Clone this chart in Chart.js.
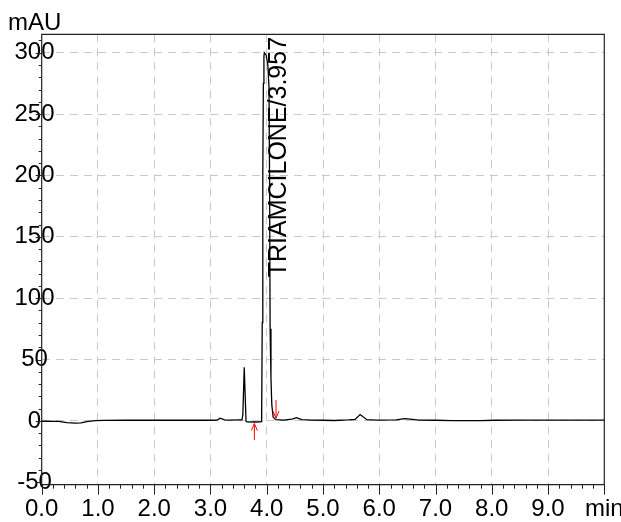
<!DOCTYPE html>
<html><head><meta charset="utf-8">
<script src="https://cdn.jsdelivr.net/npm/chart.js@4.4.0/dist/chart.umd.min.js"></script>
<style>html,body{margin:0;padding:0;background:#fff;overflow:hidden}#wrap{width:621px;height:522px;position:relative}</style>
</head><body><div id="wrap"><canvas id="c" width="621" height="522"></canvas></div>
<script>
// ---- data ----
const timeMin = [0.00,0.30,0.45,0.60,0.70,0.80,0.95,1.10,1.50,2.00,2.50,3.00,3.12,3.17,3.25,3.35,3.50,3.56,3.575,3.60,3.632,3.65,3.80,3.88,3.90,3.91,3.92,3.93,3.94,3.95,3.957,3.99,4.02,4.04,4.05,4.06,4.075,4.09,4.115,4.16,4.30,4.45,4.53,4.62,4.80,5.00,5.20,5.45,5.57,5.66,5.78,5.95,6.30,6.45,6.55,6.70,7.00,7.30,7.80,8.05,8.50,9.00,10.00];
const signalMAU = [-0.3,-0.4,-1.5,-1.9,-1.7,-0.6,0.2,0.4,0.5,0.5,0.5,0.5,0.6,2.2,0.8,0.6,0.8,0.8,5,43.6,-0.3,-0.8,-0.9,-0.8,-0.5,8,80,200,275,297,300,298,290,272,200,75,35,13,3,1.0,0.6,1.4,2.6,1.0,0.6,0.5,0.3,0.8,1.2,5.2,1.0,0.6,0.8,1.8,1.5,0.6,0.5,0.2,0.2,0.5,0.6,0.6,0.6];
const xTickValues = [0,1,2,3,4,5,6,7,8,9,10];
const xTickLabels = ['0.0','1.0','2.0','3.0','4.0','5.0','6.0','7.0','8.0','9.0','min'];
const yTickValues = [-50,0,50,100,150,200,250,300];
const yUnitLabel = 'mAU';
const peakLabel = 'TRIAMCILONE/3.957';
const peakLabelTime = [4.227];
const peakLabelMAU = [117];
const arrowTimes = [3.78, 4.165];
const arrowFromMAU = [-15.5, 17];
const arrowToMAU = [-2.2, 2.2];

const FONT = 'Liberation Sans, Arial, Helvetica, sans-serif';
Chart.defaults.font.family = FONT;
Chart.defaults.font.size = 24;
Chart.defaults.color = '#000';

const points = timeMin.map((t,i)=>({x:t,y:signalMAU[i]}));

const decor = {
  id:'decor',
  afterDraw(chart){
    const {ctx, chartArea:a, scales:{x,y}} = chart;
    ctx.save();
    // red baseline arrows
    ctx.strokeStyle = '#ff0000'; ctx.lineWidth = 1;
    arrowTimes.forEach((t,i)=>{
      const px = x.getPixelForValue(t);
      const y0 = y.getPixelForValue(arrowFromMAU[i]);
      const y1 = y.getPixelForValue(arrowToMAU[i]);
      const dir = y1 > y0 ? -1 : 1;
      ctx.beginPath();
      ctx.moveTo(px,y0); ctx.lineTo(px,y1);
      ctx.moveTo(px-3,y1+dir*7); ctx.lineTo(px,y1); ctx.lineTo(px+3,y1+dir*7);
      ctx.stroke();
    });
    // frame
    ctx.strokeStyle = '#222'; ctx.lineWidth = 1.2;
    ctx.beginPath();
    ctx.rect(a.left, a.top, a.right-a.left, a.bottom-a.top);
    ctx.stroke();
    // x ticks
    ctx.lineWidth = 1;
    ctx.beginPath();
    for(let k=0;k<=50;k++){
      const v = k*0.2;
      const px = Math.round(x.getPixelForValue(v))+0.5;
      const len = (k%5===0)?10:4;
      ctx.moveTo(px,a.bottom); ctx.lineTo(px,a.bottom+len);
    }
    // y ticks
    for(let v=-50; v<=310; v+=10){
      const py = Math.round(y.getPixelForValue(v))+0.5;
      const len = (v%50===0)?6:3;
      ctx.moveTo(a.left,py); ctx.lineTo(a.left-len,py);
    }
    ctx.stroke();
    // unit label
    ctx.fillStyle = '#000';
    ctx.font = '24px ' + FONT;
    ctx.textAlign = 'center'; ctx.textBaseline = 'middle';
    ctx.fillText(yUnitLabel, a.left-7, a.top-11);
    // peak label
    ctx.save();
    ctx.font = '25px ' + FONT;
    ctx.translate(x.getPixelForValue(peakLabelTime[0]), y.getPixelForValue(peakLabelMAU[0]));
    ctx.rotate(-Math.PI/2);
    ctx.textAlign = 'left'; ctx.textBaseline = 'middle';
    ctx.fillText(peakLabel, 0, 0);
    ctx.restore();
    ctx.restore();
  }
};

new Chart(document.getElementById('c'), {
  type:'scatter',
  data:{datasets:[{data:points, showLine:true, borderColor:'#000', borderWidth:1.3, pointRadius:0, tension:0}]},
  options:{
    responsive:false, animation:false, devicePixelRatio:1,
    layout:{padding:{left:0, top:34.3, right:16.7, bottom:0}},
    plugins:{legend:{display:false}, tooltip:{enabled:false}},
    scales:{
      x:{type:'linear', min:0, max:10,
        afterBuildTicks(s){ s.ticks = xTickValues.map(v=>({value:v})); },
        afterFit(s){ s.height = 37.3; s.paddingLeft=0; s.paddingRight=0; s.paddingTop=0; s.paddingBottom=0; },
        ticks:{autoSkip:false, maxRotation:0, padding:10, font:{size:24},
          callback:(v)=>xTickLabels[xTickValues.indexOf(v)]},
        grid:{drawTicks:false, lineWidth:1, color:(c)=> (c.tick && c.tick.value>0 && c.tick.value<10) ? '#c8c8c8' : 'rgba(0,0,0,0)'},
        border:{display:false, dash:[8,6]}
      },
      y:{type:'linear', min:-52, max:315,
        afterBuildTicks(s){ s.ticks = yTickValues.map(v=>({value:v})); },
        afterFit(s){ s.width = 41.7; s.paddingLeft=0; s.paddingRight=0; s.paddingTop=0; s.paddingBottom=0; },
        ticks:{autoSkip:false, mirror:true, crossAlign:'center', padding:-27.2, font:{size:24},
          callback:(v)=>String(v)},
        grid:{drawTicks:false, lineWidth:1, color:(c)=> (c.tick && c.tick.value>=0) ? '#c8c8c8' : 'rgba(0,0,0,0)'},
        border:{display:false, dash:[8,6]}
      }
    }
  },
  plugins:[decor]
});
</script></body></html>
